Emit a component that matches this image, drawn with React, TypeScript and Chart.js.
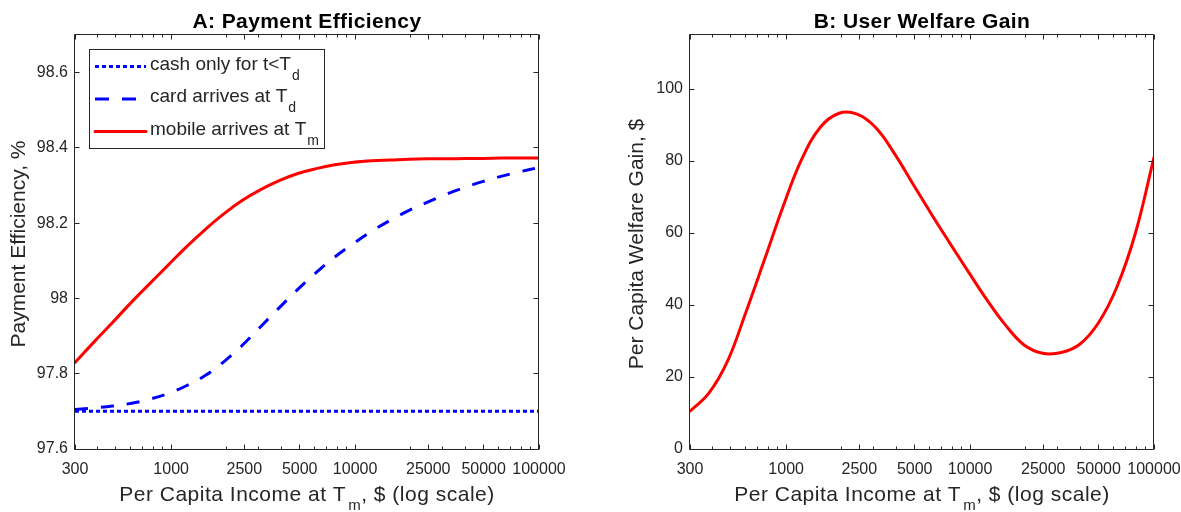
import { useEffect, useRef } from "react";
import { Chart, registerables } from "chart.js";

Chart.register(...registerables);

const FONT = '"Liberation Sans", Arial, Helvetica, sans-serif';
const INK = "#262626";
const RED = "#ff0000";
const BLUE = "#0000ff";

// Per-capita income at T_m ($), evenly spaced on the log axis
const income = [300, 380, 480, 600, 760, 960, 1210, 1530, 1925, 2430, 3065, 3865, 4880, 6155, 7760, 9795, 12355, 15585, 19665, 24805, 31295, 39485, 49810, 62840, 79280, 100000];

// Panel A: payment efficiency (%)
const cashIncome = [300, 100000];
const cashOnlyEff = [97.7, 97.7];
const cardEff = [97.705, 97.709, 97.714, 97.721, 97.732, 97.747, 97.768, 97.795, 97.831, 97.875, 97.925, 97.975, 98.024, 98.069, 98.11, 98.146, 98.179, 98.208, 98.234, 98.256, 98.277, 98.295, 98.311, 98.325, 98.337, 98.348];
const mobileEff = [97.83, 97.884, 97.936, 97.987, 98.038, 98.088, 98.137, 98.183, 98.224, 98.26, 98.289, 98.313, 98.332, 98.345, 98.355, 98.362, 98.366, 98.368, 98.37, 98.371, 98.371, 98.372, 98.372, 98.373, 98.373, 98.373];

// Panel B: per-capita user welfare gain ($)
const welfareGain = [10.5, 15.5, 24.4, 37.6, 52.4, 67.2, 80.3, 89.3, 93.2, 93.0, 89.3, 82.2, 73.7, 65.3, 57.2, 49.2, 41.4, 34.4, 28.9, 26.6, 26.8, 29.1, 35, 45, 60, 81];

// Axis ticks
const xTickValues = [300, 1000, 2500, 5000, 10000, 25000, 50000, 100000];
const xMinorTicks = [400, 500, 600, 700, 800, 900, 2000, 3000, 4000, 6000, 7000, 8000, 9000, 20000, 30000, 40000, 60000, 70000, 80000, 90000];
const effTicks = [97.6, 97.8, 98.0, 98.2, 98.4, 98.6];
const gainTicks = [0, 20, 40, 60, 80, 100];

type Seg = { t: string; sub?: boolean; gap?: number };

const xTitle: Seg[] = [{ t: "Per Capita Income at T" }, { t: "m", sub: true, gap: 2 }, { t: ", $ (log scale)" }];

const legendRows: { segs: Seg[]; color: string; dash: number[]; cap: CanvasLineCap }[] = [
  { segs: [{ t: "cash only for t<T" }, { t: "d", sub: true, gap: 1 }], color: BLUE, dash: [4, 3], cap: "butt" },
  { segs: [{ t: "card arrives at T" }, { t: "d", sub: true, gap: 1 }], color: BLUE, dash: [14, 13], cap: "butt" },
  { segs: [{ t: "mobile arrives at T" }, { t: "m", sub: true, gap: 1 }], color: RED, dash: [], cap: "round" },
];

function drawSegs(
  ctx: CanvasRenderingContext2D,
  segs: Seg[],
  x: number,
  y: number,
  size: number,
  subSize: number,
  drop: number,
  align: "center" | "left",
  weight = "normal",
  spacing = "0px"
) {
  const main = `${weight} ${size}px ${FONT}`;
  const small = `${weight} ${subSize}px ${FONT}`;
  (ctx as any).letterSpacing = spacing;
  const widths = segs.map((s) => {
    ctx.font = s.sub ? small : main;
    return ctx.measureText(s.t).width + (s.gap || 0);
  });
  const total = widths.reduce((a, b) => a + b, 0);
  let cx = align === "center" ? x - total / 2 : x;
  ctx.textAlign = "left";
  ctx.textBaseline = "alphabetic";
  segs.forEach((s, i) => {
    ctx.font = s.sub ? small : main;
    ctx.fillText(s.t, cx + (s.gap || 0), s.sub ? y + drop : y);
    cx += widths[i];
  });
  (ctx as any).letterSpacing = "0px";
}

type Deco = {
  title: string;
  yTitle: string;
  yTitleX: number;
  yTicks: number[];
  legend: boolean;
};

function framePlugin(d: Deco) {
  return {
    id: "matlabFrame",
    afterDraw(chart: any) {
      const { ctx, chartArea: a, scales } = chart;
      const xs = scales.x;
      const ys = scales.y;
      ctx.save();
      // axes box
      ctx.strokeStyle = INK;
      ctx.lineWidth = 1;
      const L = a.left - 0.5;
      const R = a.right - 0.5;
      const T = a.top - 0.5;
      const B = a.bottom + 0.5;
      ctx.beginPath();
      ctx.rect(L, T, R - L, B - T);
      ctx.stroke();
      // inward tick marks, mirrored on all four sides
      ctx.beginPath();
      const xTick = (v: number, len: number) => {
        const px = Math.floor(xs.getPixelForValue(v)) + 0.5;
        ctx.moveTo(px, B);
        ctx.lineTo(px, B - len);
        ctx.moveTo(px, T);
        ctx.lineTo(px, T + len);
      };
      xTickValues.forEach((v) => xTick(v, 5));
      xMinorTicks.forEach((v) => xTick(v, 3));
      d.yTicks.forEach((v) => {
        const py = Math.floor(ys.getPixelForValue(v)) + 0.5;
        ctx.moveTo(L, py);
        ctx.lineTo(L + 5, py);
        ctx.moveTo(R, py);
        ctx.lineTo(R - 5, py);
      });
      ctx.stroke();

      // titles
      const cx = (a.left + a.right) / 2;
      const cy = (a.top + a.bottom) / 2;
      ctx.fillStyle = "#000000";
      drawSegs(ctx, [{ t: d.title }], cx, 28, 21, 21, 0, "center", "bold", "0.4px");
      ctx.fillStyle = INK;
      drawSegs(ctx, xTitle, cx, 501, 21, 15, 9, "center", "normal", "0.5px");
      ctx.save();
      ctx.translate(d.yTitleX, cy + 2);
      ctx.rotate(-Math.PI / 2);
      drawSegs(ctx, [{ t: d.yTitle }], 0, 7, 21, 15, 0, "center", "normal", "0px");
      ctx.restore();

      if (d.legend) {
        const bx = 89.5;
        const by = 49.5;
        const bw = 235;
        const bh = 99;
        ctx.fillStyle = "#ffffff";
        ctx.fillRect(bx, by, bw, bh);
        ctx.strokeStyle = INK;
        ctx.lineWidth = 1;
        ctx.strokeRect(bx, by, bw, bh);
        legendRows.forEach((row, i) => {
          const ly = 66.5 + i * 32.5;
          ctx.save();
          ctx.strokeStyle = row.color;
          ctx.lineWidth = 3;
          ctx.lineCap = row.cap;
          ctx.setLineDash(row.dash);
          ctx.beginPath();
          ctx.moveTo(95, ly);
          ctx.lineTo(146, ly);
          ctx.stroke();
          ctx.restore();
          ctx.fillStyle = INK;
          drawSegs(ctx, row.segs, 150, ly + 3, 19, 14, 10, "left");
        });
      }
      ctx.restore();
    },
  };
}

function xScale() {
  return {
    type: "logarithmic",
    min: 300,
    max: 100000,
    grid: { display: false, drawTicks: false },
    border: { display: false },
    afterBuildTicks: (s: any) => {
      s.ticks = xTickValues.map((v) => ({ value: v }));
    },
    afterFit: (s: any) => {
      s.height = 63;
      s.paddingLeft = 0;
      s.paddingRight = 0;
    },
    ticks: {
      autoSkip: false,
      maxRotation: 0,
      minRotation: 0,
      padding: 11,
      color: INK,
      font: { family: FONT, size: 16 },
      callback: (v: any) => String(v),
    },
  };
}

function yScale(min: number, max: number, ticks: number[], width: number) {
  return {
    type: "linear",
    min,
    max,
    grid: { display: false, drawTicks: false },
    border: { display: false },
    afterBuildTicks: (s: any) => {
      s.ticks = ticks.map((v) => ({ value: v }));
    },
    afterFit: (s: any) => {
      s.width = width;
      s.paddingTop = 0;
      s.paddingBottom = 0;
    },
    ticks: {
      padding: 7,
      color: INK,
      font: { family: FONT, size: 16 },
      callback: (v: any) => String(Number(Number(v).toFixed(1))),
    },
  };
}

const baseOptions = {
  responsive: false,
  animation: false as const,
  devicePixelRatio: 1,
  events: [] as any[],
  plugins: { legend: { display: false }, tooltip: { enabled: false }, title: { display: false } },
  elements: { point: { radius: 0 }, line: { tension: 0.4 } },
};

function pts(xs: number[], ys: number[]) {
  return xs.map((x, i) => ({ x, y: ys[i] }));
}

export default function App() {
  const leftRef = useRef<HTMLCanvasElement>(null);
  const rightRef = useRef<HTMLCanvasElement>(null);

  useEffect(() => {
    const left = new Chart(leftRef.current as HTMLCanvasElement, {
      type: "line",
      data: {
        datasets: [
          {
            label: "cash only for t<T_d",
            data: pts(cashIncome, cashOnlyEff),
            borderColor: BLUE,
            borderWidth: 3,
            borderDash: [4, 3],
            borderCapStyle: "butt",
            tension: 0,
          },
          {
            label: "card arrives at T_d",
            data: pts(income, cardEff),
            borderColor: BLUE,
            borderWidth: 3,
            borderDash: [13, 13],
            borderCapStyle: "butt",
          },
          {
            label: "mobile arrives at T_m",
            data: pts(income, mobileEff),
            borderColor: RED,
            borderWidth: 3,
            borderCapStyle: "round",
          },
        ],
      } as any,
      options: {
        ...baseOptions,
        layout: { padding: { left: 0, right: 51, top: 35, bottom: 0 } },
        scales: {
          x: xScale(),
          y: yScale(97.6, 98.7, effTicks, 75),
        },
      } as any,
      plugins: [
        framePlugin({
          title: "A: Payment Efficiency",
          yTitle: "Payment Efficiency, %",
          yTitleX: 18,
          yTicks: effTicks,
          legend: true,
        }),
      ],
    });

    const right = new Chart(rightRef.current as HTMLCanvasElement, {
      type: "line",
      data: {
        datasets: [
          {
            label: "welfare gain",
            data: pts(income, welfareGain),
            borderColor: RED,
            borderWidth: 3,
            borderCapStyle: "round",
          },
        ],
      } as any,
      options: {
        ...baseOptions,
        layout: { padding: { left: 0, right: 27, top: 35, bottom: 0 } },
        scales: {
          x: xScale(),
          y: yScale(0, 115, gainTicks, 100),
        },
      } as any,
      plugins: [
        framePlugin({
          title: "B: User Welfare Gain",
          yTitle: "Per Capita Welfare Gain, $",
          yTitleX: 46,
          yTicks: gainTicks,
          legend: false,
        }),
      ],
    });

    return () => {
      left.destroy();
      right.destroy();
    };
  }, []);

  return (
    <div style={{ position: "absolute", left: 0, top: 0, width: 1181, height: 512, background: "#ffffff" }}>
      <canvas
        ref={leftRef}
        width={590}
        height={512}
        style={{ position: "absolute", left: 0, top: 0, width: 590, height: 512 }}
      />
      <canvas
        ref={rightRef}
        width={591}
        height={512}
        style={{ position: "absolute", left: 590, top: 0, width: 591, height: 512 }}
      />
    </div>
  );
}
